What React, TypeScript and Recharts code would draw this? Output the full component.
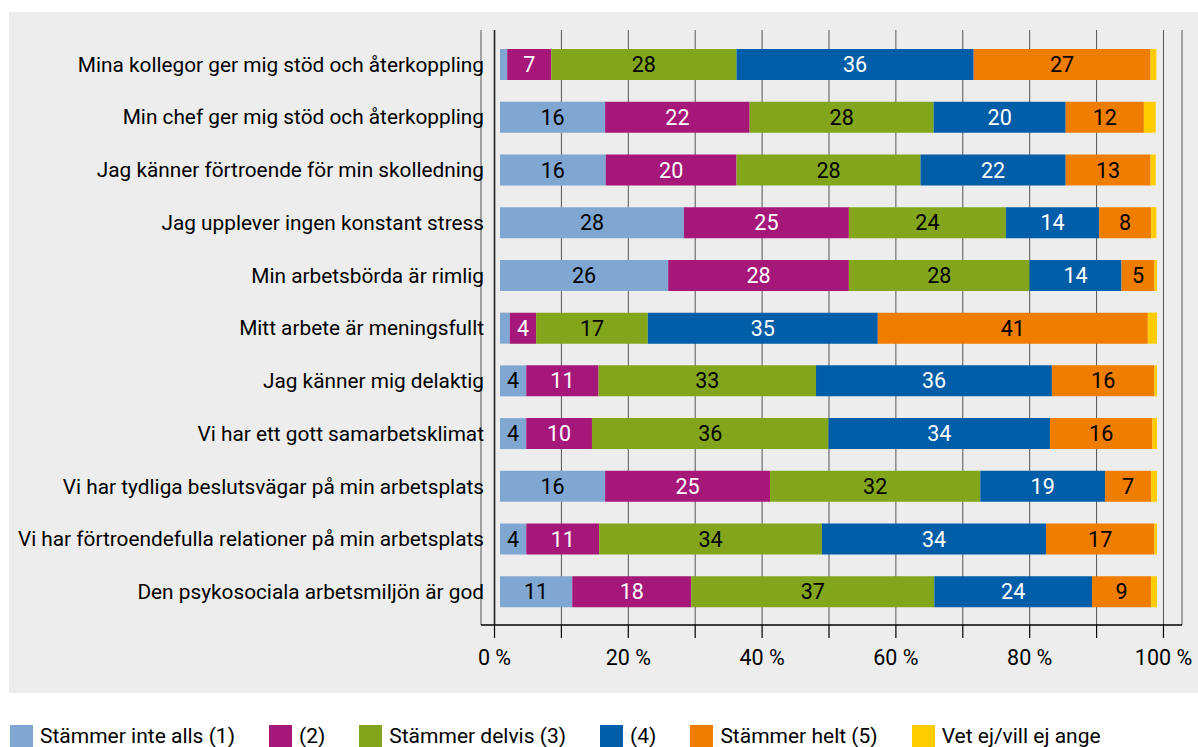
import React from 'react';
import {
  BarChart,
  Bar,
  XAxis,
  YAxis,
  CartesianGrid,
  Legend,
  LabelList,
  ReferenceLine,
} from 'recharts';

const categories = [
  'Mina kollegor ger mig stöd och återkoppling',
  'Min chef ger mig stöd och återkoppling',
  'Jag känner förtroende för min skolledning',
  'Jag upplever ingen konstant stress',
  'Min arbetsbörda är rimlig',
  'Mitt arbete är meningsfullt',
  'Jag känner mig delaktig',
  'Vi har ett gott samarbetsklimat',
  'Vi har tydliga beslutsvägar på min arbetsplats',
  'Vi har förtroendefulla relationer på min arbetsplats',
  'Den psykosociala arbetsmiljön är god',
];

// percentages per answer
const inteAlls = [1.1, 16.0, 16.1, 28.0, 25.6, 1.5, 4.0, 4.0, 16.0, 4.0, 11.0];
const tva = [6.7, 22.0, 19.9, 25.1, 27.5, 4.0, 11.0, 10.0, 25.1, 11.1, 18.1];
const delvis = [28.2, 28.0, 28.0, 23.9, 27.5, 17.0, 33.1, 36.0, 32.0, 33.9, 37.0];
const fyra = [36.1, 20.1, 22.1, 14.2, 14.0, 35.0, 35.9, 33.7, 19.0, 34.1, 24.0];
const helt = [26.9, 11.9, 12.9, 7.9, 5.0, 41.1, 15.6, 15.6, 7.0, 16.5, 9.0];
const vetEj = [0.9, 1.8, 0.8, 0.8, 0.4, 1.4, 0.4, 0.7, 0.9, 0.4, 0.9];

const gridTicks = [0, 10, 20, 30, 40, 50, 60, 70, 80, 90, 100];

const series = [
  { key: 's1', name: 'Stämmer inte alls (1)', color: '#80a7d1', text: '#000', values: inteAlls },
  { key: 's2', name: '(2)', color: '#a6177a', text: '#fff', values: tva },
  { key: 's3', name: 'Stämmer delvis (3)', color: '#82a51c', text: '#000', values: delvis },
  { key: 's4', name: '(4)', color: '#005da8', text: '#fff', values: fyra },
  { key: 's5', name: 'Stämmer helt (5)', color: '#ef7d00', text: '#000', values: helt },
  { key: 's6', name: 'Vet ej/vill ej ange', color: '#ffcc00', text: null, values: vetEj },
];

const data = categories.map((name, i) => {
  const row: Record<string, number | string> = { name };
  series.forEach((s) => {
    row[s.key] = s.values[i];
  });
  return row;
});

const FONT = 'Roboto, "Noto Sans", sans-serif';

const fmtLabel = (v: any) => (typeof v === 'number' && v >= 3 ? String(Math.round(v)) : '');

// legend keeps the series order (recharts sorts the payload otherwise)
function LegendRow() {
  return (
    <div style={{ display: 'flex', alignItems: 'center', height: 22, paddingLeft: 10, fontFamily: FONT }}>
      {series.map((s) => (
        <div key={s.key} style={{ display: 'flex', alignItems: 'center', marginRight: 34 }}>
          <span style={{ display: 'inline-block', width: 23, height: 22, background: s.color, marginRight: 7 }} />
          <span style={{ fontSize: 21, lineHeight: '22px', color: '#000' }}>{s.name}</span>
        </div>
      ))}
    </div>
  );
}

export default function App() {
  return (
    <div
      style={{
        position: 'absolute',
        left: 0,
        top: 0,
        width: 1198,
        height: 747,
        background: '#fff',
        overflow: 'hidden',
        fontFamily: FONT,
      }}
    >
      <div style={{ position: 'absolute', left: 9, top: 12, width: 1189, height: 681, background: '#ededed' }} />
      <div style={{ position: 'absolute', left: 0, top: 0 }}>
        <BarChart
          width={1198}
          height={747}
          data={data}
          layout="vertical"
          barSize={31}
          margin={{ top: 30, right: 16, bottom: 0, left: 0 }}
        >
          <CartesianGrid horizontal={false} stroke="#555" strokeWidth={1} />
          <XAxis
            type="number"
            domain={[-2.02, 102.77]}
            allowDataOverflow
            ticks={gridTicks}
            interval={0}
            tickFormatter={(v: number) => (v % 20 === 0 ? `${v} %` : '')}
            height={100}
            tickSize={13}
            tickMargin={12}
            axisLine={{ stroke: '#000', strokeWidth: 1.5 }}
            tickLine={{ stroke: '#000', strokeWidth: 1.2 }}
            tick={{ fill: '#000', fontSize: 21.5, fontFamily: FONT }}
          />
          <XAxis xAxisId="bars" type="number" domain={[-2.89, 103.8]} allowDataOverflow hide />
          <YAxis
            type="category"
            dataKey="name"
            width={481}
            axisLine={false}
            tickLine={false}
            tickSize={0}
            tickMargin={0}
            interval={0}
            padding={{ top: 8, bottom: 7 }}
            tick={{ fill: '#000', fontSize: 20.8, fontFamily: FONT, dx: 3 }}
          />
          <ReferenceLine x={0} stroke="#222" strokeWidth={1.6} />
          {series.map((s) => (
            <Bar
              key={s.key}
              dataKey={s.key}
              name={s.name}
              stackId="a"
              xAxisId="bars"
              fill={s.color}
              isAnimationActive={false}
            >
              {s.text && (
                <LabelList
                  dataKey={s.key}
                  position="center"
                  fill={s.text}
                  fontSize={21.5}
                  fontFamily={FONT}
                  formatter={fmtLabel}
                />
              )}
            </Bar>
          ))}
          <Legend
            verticalAlign="bottom"
            align="left"
            wrapperStyle={{ left: 0, bottom: 0, width: 1198 }}
            content={() => <LegendRow />}
          />
        </BarChart>
      </div>
    </div>
  );
}
